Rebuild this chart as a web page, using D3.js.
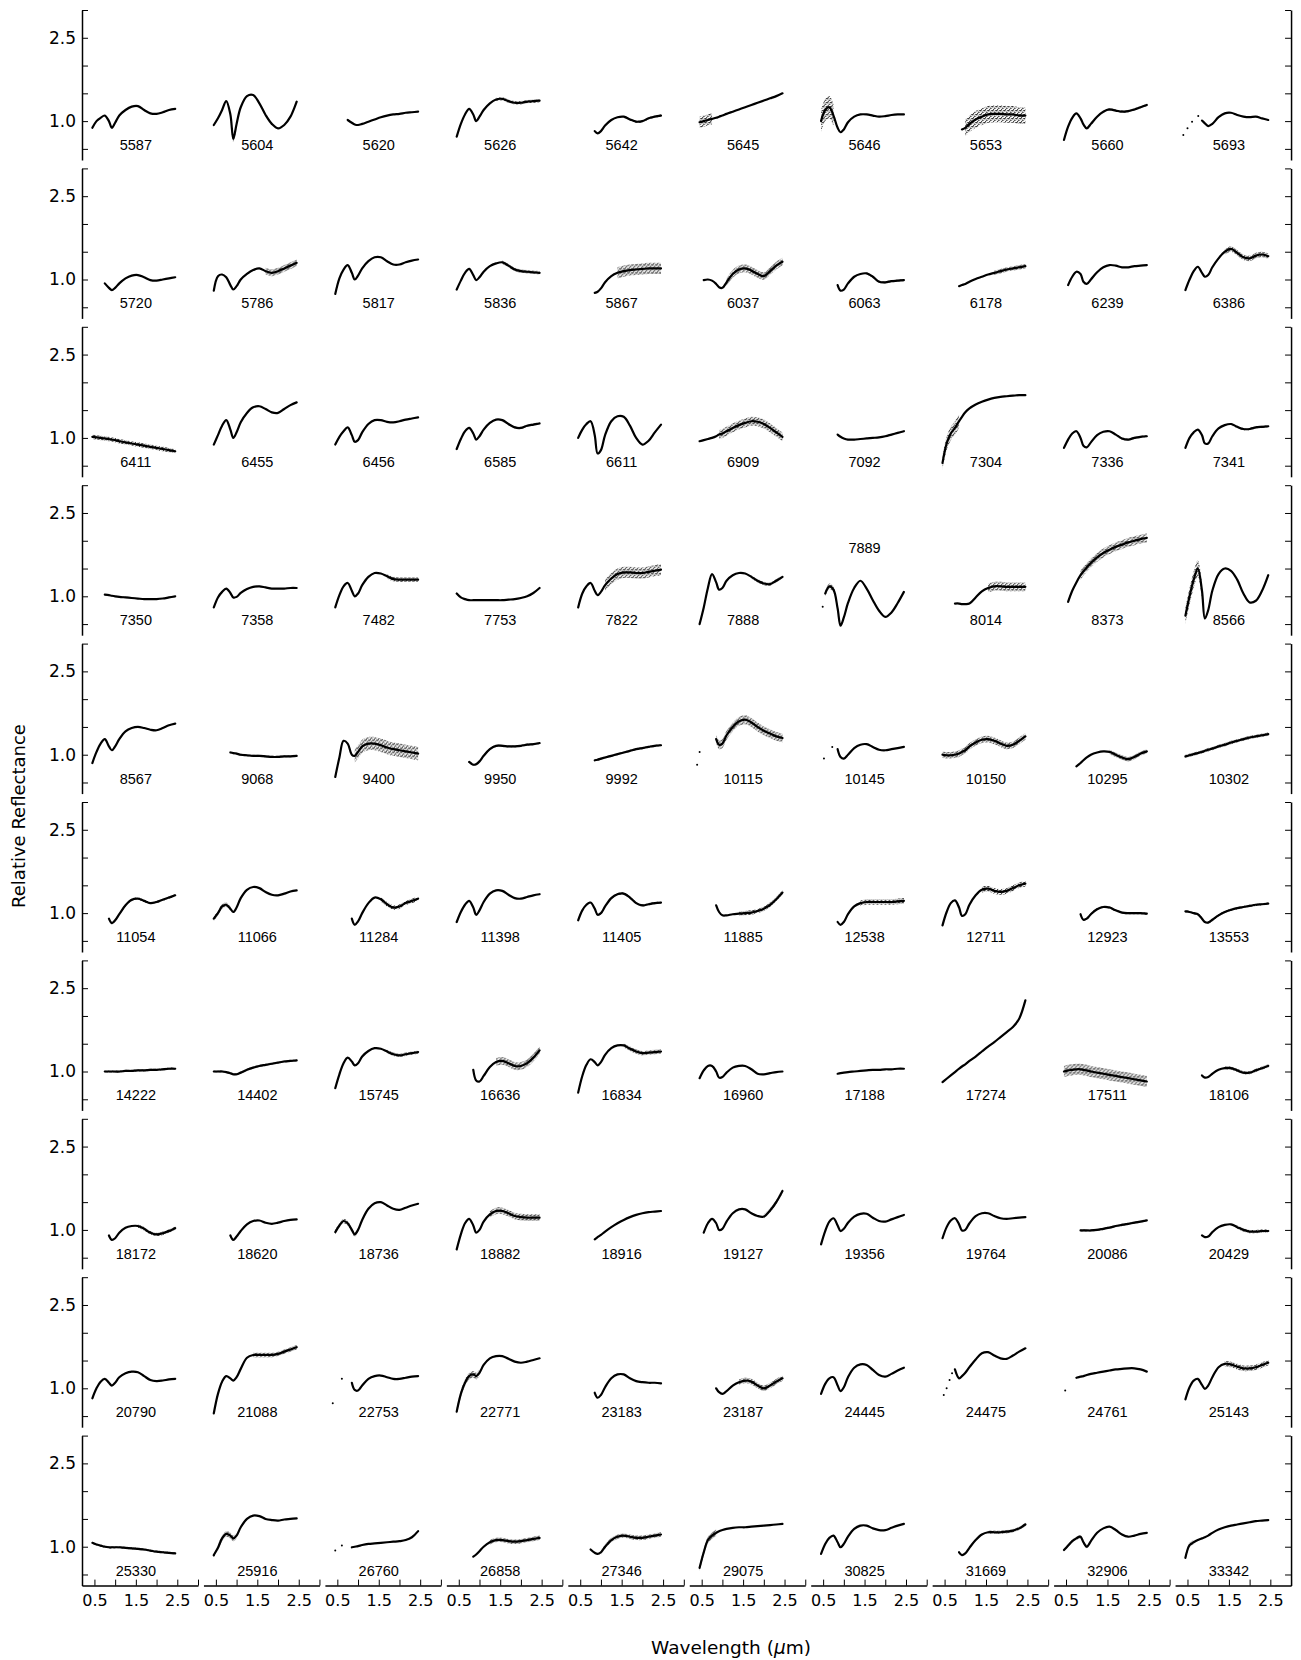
<!DOCTYPE html>
<html><head><meta charset="utf-8">
<script src="https://cdn.jsdelivr.net/npm/d3@7"></script>
<style>body{margin:0;background:#fff}</style>
</head><body><svg id="chart" width="1301" height="1660"></svg>
<script>
// ---- DATA ----
const wavelengths = [0.45,0.55,0.65,0.75,0.85,0.92,1.0,1.1,1.25,1.4,1.55,1.7,1.85,2.0,2.15,2.3,2.45];

const asteroidIds = [
"5587","5604","5620","5626","5642","5645","5646","5653","5660","5693",
"5720","5786","5817","5836","5867","6037","6063","6178","6239","6386",
"6411","6455","6456","6585","6611","6909","7092","7304","7336","7341",
"7350","7358","7482","7753","7822","7888","7889","8014","8373","8566",
"8567","9068","9400","9950","9992","10115","10145","10150","10295","10302",
"11054","11066","11284","11398","11405","11885","12538","12711","12923","13553",
"14222","14402","15745","16636","16834","16960","17188","17274","17511","18106",
"18172","18620","18736","18882","18916","19127","19356","19764","20086","20429",
"20790","21088","22753","22771","23183","23187","24445","24475","24761","25143",
"25330","25916","26760","26858","27346","29075","30825","31669","32906","33342"];

const reflectance = [
[0.88,1.0,1.06,1.1,1.0,0.88,0.97,1.1,1.2,1.26,1.27,1.2,1.14,1.13,1.16,1.2,1.22],
[0.93,1.05,1.2,1.36,1.12,0.68,0.95,1.25,1.45,1.47,1.32,1.11,0.95,0.87,0.93,1.08,1.35],
[null,null,null,1.02,0.97,0.94,0.93,0.95,0.99,1.03,1.07,1.1,1.12,1.13,1.15,1.16,1.17],
[0.72,0.95,1.12,1.22,1.12,1.0,1.08,1.2,1.32,1.39,1.4,1.36,1.33,1.33,1.35,1.36,1.37],
[null,null,null,null,0.82,0.78,0.82,0.92,1.02,1.07,1.08,1.03,0.99,1.0,1.05,1.08,1.1],
[0.98,1.0,1.02,1.04,1.06,1.08,1.1,1.13,1.17,1.21,1.25,1.29,1.33,1.37,1.41,1.45,1.5],
[1.0,1.2,1.25,1.1,0.88,0.8,0.85,0.98,1.08,1.12,1.12,1.1,1.08,1.09,1.11,1.12,1.12],
[null,null,null,null,null,0.85,0.88,0.95,1.03,1.08,1.12,1.13,1.13,1.12,1.12,1.1,1.1],
[0.66,0.9,1.06,1.14,1.05,0.94,0.87,0.95,1.08,1.17,1.21,1.19,1.17,1.18,1.21,1.25,1.29],
[null,null,null,null,1.01,0.96,0.91,0.95,1.07,1.14,1.15,1.11,1.08,1.07,1.08,1.05,1.02],

[null,null,null,0.93,0.85,0.81,0.85,0.93,1.02,1.07,1.08,1.04,0.99,0.98,1.0,1.02,1.04],
[0.8,1.06,1.09,1.04,0.9,0.82,0.88,1.0,1.1,1.17,1.2,1.15,1.12,1.15,1.2,1.25,1.3],
[0.74,1.02,1.18,1.26,1.12,1.0,1.07,1.2,1.33,1.4,1.4,1.33,1.27,1.27,1.31,1.34,1.36],
[0.82,0.98,1.12,1.19,1.08,0.99,1.04,1.14,1.24,1.29,1.31,1.25,1.18,1.15,1.14,1.13,1.12],
[null,null,null,null,0.76,0.78,0.84,0.95,1.06,1.12,1.15,1.17,1.18,1.19,1.2,1.2,1.2],
[null,0.99,1.0,0.98,0.92,0.86,0.85,0.95,1.1,1.18,1.2,1.16,1.1,1.06,1.15,1.25,1.32],
[null,null,null,null,0.9,0.8,0.82,0.93,1.05,1.1,1.11,1.05,0.96,0.95,0.97,0.98,0.99],
[null,null,null,null,0.88,0.9,0.92,0.96,1.01,1.05,1.09,1.12,1.15,1.18,1.2,1.22,1.24],
[null,0.9,1.05,1.14,1.1,0.96,0.92,1.0,1.13,1.22,1.26,1.25,1.22,1.22,1.24,1.25,1.26],
[0.81,1.0,1.15,1.23,1.12,1.05,1.08,1.22,1.38,1.5,1.55,1.48,1.4,1.38,1.43,1.45,1.42],

[1.02,1.01,1.0,0.99,0.98,0.97,0.96,0.94,0.92,0.9,0.88,0.86,0.84,0.82,0.8,0.78,0.76],
[0.88,1.05,1.22,1.32,1.15,1.0,1.1,1.28,1.45,1.55,1.57,1.52,1.46,1.45,1.52,1.59,1.64],
[0.88,1.02,1.12,1.19,1.05,0.93,0.96,1.1,1.25,1.32,1.32,1.29,1.28,1.3,1.33,1.35,1.37],
[0.8,0.98,1.12,1.18,1.08,0.97,1.03,1.15,1.27,1.33,1.32,1.25,1.19,1.18,1.22,1.24,1.26],
[1.0,1.15,1.25,1.3,1.05,0.72,0.78,1.05,1.3,1.39,1.38,1.22,1.0,0.88,0.95,1.1,1.24],
[0.94,0.96,0.98,1.0,1.03,1.06,1.08,1.12,1.18,1.23,1.27,1.3,1.29,1.25,1.18,1.1,1.02],
[null,null,null,null,1.06,1.02,0.99,0.97,0.97,0.98,0.99,1.0,1.01,1.03,1.06,1.09,1.12],
[0.55,0.9,1.08,1.18,1.3,1.38,1.46,1.53,1.6,1.65,1.69,1.72,1.74,1.75,1.76,1.77,1.77],
[0.82,0.97,1.08,1.12,1.0,0.86,0.83,0.92,1.05,1.11,1.12,1.06,0.99,0.97,1.0,1.02,1.03],
[0.82,1.0,1.1,1.15,1.05,0.9,0.9,1.03,1.17,1.23,1.25,1.2,1.16,1.16,1.19,1.2,1.21],

[null,null,null,1.03,1.02,1.01,1.0,0.99,0.98,0.97,0.96,0.95,0.95,0.95,0.96,0.98,1.0],
[0.8,0.98,1.08,1.14,1.06,0.98,0.99,1.06,1.13,1.17,1.18,1.16,1.14,1.14,1.14,1.15,1.15],
[0.8,1.02,1.18,1.24,1.1,1.0,1.05,1.2,1.35,1.42,1.41,1.36,1.31,1.3,1.3,1.3,1.3],
[1.05,0.98,0.95,0.93,0.93,0.93,0.93,0.93,0.93,0.93,0.93,0.94,0.95,0.97,1.0,1.06,1.15],
[0.8,1.05,1.18,1.24,1.1,1.02,1.08,1.2,1.32,1.4,1.43,1.43,1.42,1.42,1.44,1.46,1.48],
[0.5,0.8,1.15,1.4,1.25,1.12,1.15,1.28,1.38,1.42,1.41,1.35,1.28,1.23,1.22,1.28,1.35],
[null,1.05,1.18,1.12,0.78,0.47,0.62,0.88,1.15,1.28,1.14,0.93,0.74,0.63,0.71,0.88,1.08],
[null,null,null,0.87,0.87,0.86,0.86,0.87,0.98,1.09,1.15,1.18,1.18,1.17,1.17,1.17,1.17],
[null,0.9,1.1,1.25,1.38,1.45,1.52,1.6,1.7,1.78,1.84,1.89,1.93,1.97,2.0,2.03,2.05],
[0.65,1.0,1.3,1.5,1.1,0.6,0.75,1.1,1.4,1.5,1.46,1.3,1.05,0.89,0.92,1.1,1.38],

[0.85,1.05,1.2,1.28,1.15,1.08,1.15,1.28,1.42,1.48,1.5,1.48,1.45,1.44,1.48,1.53,1.56],
[null,null,null,null,1.04,1.03,1.02,1.0,0.99,0.98,0.98,0.97,0.96,0.96,0.97,0.97,0.98],
[0.6,0.95,1.25,1.2,1.0,0.98,1.05,1.15,1.2,1.2,1.17,1.13,1.1,1.08,1.06,1.04,1.02],
[null,null,null,0.87,0.82,0.83,0.88,0.98,1.1,1.16,1.16,1.15,1.15,1.16,1.18,1.19,1.21],
[null,null,null,null,0.9,0.91,0.93,0.95,0.98,1.01,1.04,1.07,1.1,1.12,1.14,1.16,1.17],
[null,null,null,null,1.28,1.18,1.2,1.35,1.5,1.6,1.63,1.58,1.5,1.43,1.38,1.33,1.3],
[null,null,null,null,1.1,0.96,0.93,1.0,1.12,1.18,1.19,1.14,1.09,1.08,1.1,1.12,1.14],
[1.0,0.99,0.99,1.0,1.02,1.05,1.08,1.15,1.22,1.27,1.28,1.25,1.2,1.16,1.18,1.25,1.33],
[null,null,null,0.79,0.85,0.9,0.95,1.0,1.04,1.06,1.05,1.0,0.95,0.92,0.96,1.02,1.06],
[0.97,0.99,1.01,1.03,1.05,1.07,1.09,1.11,1.15,1.18,1.22,1.25,1.28,1.31,1.33,1.35,1.37],

[null,null,null,null,0.9,0.82,0.87,0.98,1.14,1.24,1.26,1.22,1.18,1.2,1.24,1.28,1.32],
[0.9,1.0,1.12,1.15,1.08,1.02,1.1,1.27,1.42,1.47,1.45,1.38,1.33,1.32,1.35,1.39,1.41],
[null,null,null,null,0.9,0.79,0.85,1.0,1.18,1.28,1.25,1.16,1.1,1.12,1.18,1.22,1.26],
[0.84,1.02,1.15,1.22,1.1,0.97,1.05,1.2,1.35,1.41,1.4,1.33,1.27,1.26,1.29,1.32,1.34],
[0.87,1.05,1.15,1.19,1.08,0.97,1.0,1.12,1.27,1.34,1.35,1.28,1.18,1.14,1.16,1.18,1.19],
[null,null,null,null,1.14,1.02,0.96,0.96,0.98,0.99,1.0,1.01,1.04,1.08,1.15,1.25,1.37],
[null,null,null,null,0.84,0.79,0.84,0.98,1.12,1.18,1.2,1.2,1.2,1.2,1.2,1.21,1.22],
[0.78,1.02,1.18,1.23,1.1,0.95,0.98,1.15,1.32,1.42,1.44,1.4,1.38,1.4,1.45,1.5,1.53],
[null,null,null,null,0.98,0.88,0.9,0.98,1.07,1.11,1.1,1.05,1.01,1.0,1.0,1.0,0.99],
[1.03,1.02,1.0,0.98,0.9,0.84,0.83,0.88,0.96,1.02,1.06,1.09,1.11,1.13,1.15,1.16,1.17],

[null,null,null,1.0,1.0,1.0,1.0,1.0,1.01,1.01,1.02,1.02,1.03,1.03,1.04,1.05,1.05],
[1.0,1.0,1.0,0.99,0.97,0.95,0.95,0.98,1.03,1.07,1.1,1.12,1.14,1.16,1.18,1.19,1.2],
[0.7,0.95,1.15,1.25,1.18,1.11,1.15,1.27,1.37,1.42,1.41,1.36,1.31,1.29,1.31,1.33,1.35],
[null,null,null,null,1.03,0.84,0.82,0.92,1.08,1.17,1.19,1.15,1.1,1.1,1.15,1.25,1.38],
[0.62,0.92,1.12,1.22,1.17,1.11,1.17,1.3,1.42,1.47,1.47,1.41,1.36,1.33,1.34,1.35,1.36],
[0.88,1.02,1.1,1.1,1.0,0.89,0.9,0.98,1.07,1.1,1.1,1.04,0.96,0.95,0.97,0.99,1.0],
[null,null,null,null,0.96,0.97,0.98,0.99,1.0,1.01,1.02,1.03,1.03,1.04,1.04,1.05,1.05],
[0.81,0.87,0.93,0.99,1.05,1.09,1.13,1.19,1.27,1.36,1.45,1.53,1.62,1.71,1.8,1.95,2.28],
[1.0,1.02,1.03,1.04,1.04,1.03,1.02,1.0,0.98,0.96,0.94,0.92,0.9,0.88,0.86,0.84,0.82],
[null,null,null,null,0.93,0.89,0.9,0.96,1.03,1.06,1.06,1.02,0.98,0.98,1.02,1.06,1.1],

[null,null,null,null,0.9,0.82,0.85,0.95,1.04,1.07,1.07,1.02,0.95,0.92,0.94,0.98,1.03],
[null,null,null,null,0.9,0.82,0.88,0.98,1.1,1.16,1.17,1.13,1.11,1.13,1.16,1.18,1.19],
[0.96,1.08,1.16,1.12,1.0,0.92,1.0,1.18,1.38,1.48,1.5,1.44,1.38,1.36,1.4,1.44,1.47],
[0.65,0.92,1.12,1.2,1.08,0.95,1.0,1.15,1.28,1.34,1.34,1.3,1.25,1.23,1.22,1.22,1.22],
[null,null,null,null,0.83,0.87,0.91,0.97,1.05,1.12,1.18,1.23,1.27,1.3,1.32,1.33,1.34],
[null,0.95,1.12,1.2,1.12,1.0,1.02,1.15,1.3,1.37,1.37,1.3,1.25,1.24,1.35,1.5,1.7],
[0.74,0.98,1.15,1.21,1.08,0.98,1.02,1.13,1.24,1.29,1.29,1.22,1.16,1.15,1.19,1.23,1.27],
[0.85,1.05,1.17,1.21,1.1,0.99,1.0,1.12,1.25,1.3,1.3,1.25,1.21,1.2,1.21,1.22,1.23],
[null,null,null,null,0.99,0.99,0.99,0.99,1.0,1.02,1.04,1.07,1.09,1.11,1.13,1.15,1.17],
[null,null,null,null,0.9,0.87,0.88,0.96,1.05,1.09,1.1,1.05,1.0,0.97,0.97,0.98,0.98],

[0.82,1.0,1.12,1.17,1.1,1.05,1.1,1.2,1.27,1.3,1.29,1.22,1.15,1.13,1.14,1.16,1.17],
[0.55,0.9,1.12,1.22,1.18,1.14,1.2,1.35,1.55,1.6,1.6,1.6,1.6,1.62,1.66,1.7,1.74],
[null,null,null,null,1.1,0.97,0.96,1.05,1.17,1.22,1.23,1.2,1.17,1.17,1.19,1.21,1.22],
[0.58,0.9,1.1,1.22,1.25,1.22,1.28,1.42,1.54,1.58,1.58,1.53,1.48,1.46,1.48,1.51,1.54],
[null,null,null,null,0.92,0.83,0.88,1.02,1.18,1.25,1.25,1.18,1.13,1.11,1.1,1.1,1.09],
[null,null,null,null,1.0,0.93,0.9,0.95,1.05,1.11,1.14,1.12,1.05,1.0,1.05,1.12,1.18],
[0.9,1.08,1.18,1.2,1.05,0.95,1.02,1.2,1.37,1.43,1.42,1.33,1.24,1.21,1.26,1.32,1.37],
[null,null,null,1.34,1.18,1.22,1.28,1.38,1.52,1.63,1.65,1.59,1.54,1.53,1.59,1.66,1.72],
[null,null,null,1.19,1.21,1.22,1.24,1.26,1.28,1.3,1.32,1.34,1.35,1.36,1.36,1.34,1.3],
[0.8,1.02,1.14,1.17,1.06,0.99,1.05,1.2,1.38,1.44,1.43,1.39,1.36,1.36,1.38,1.42,1.46],

[1.07,1.04,1.02,1.0,0.99,0.99,0.99,0.99,0.98,0.97,0.96,0.95,0.93,0.91,0.9,0.89,0.88],
[0.85,0.98,1.15,1.23,1.2,1.15,1.2,1.35,1.5,1.56,1.55,1.5,1.48,1.47,1.49,1.5,1.51],
[null,null,null,null,0.99,1.0,1.01,1.03,1.05,1.06,1.07,1.08,1.09,1.1,1.12,1.17,1.28],
[null,null,null,null,0.82,0.86,0.92,1.0,1.08,1.12,1.12,1.1,1.09,1.1,1.12,1.14,1.16],
[null,null,null,0.95,0.89,0.87,0.9,1.0,1.12,1.18,1.2,1.18,1.16,1.16,1.18,1.2,1.22],
[0.62,0.9,1.12,1.2,1.25,1.28,1.3,1.32,1.34,1.35,1.35,1.36,1.37,1.38,1.39,1.4,1.41],
[0.87,1.05,1.16,1.2,1.08,0.99,1.05,1.18,1.32,1.38,1.38,1.33,1.3,1.3,1.34,1.38,1.41],
[null,null,null,null,0.9,0.85,0.88,0.98,1.12,1.22,1.26,1.26,1.26,1.27,1.29,1.33,1.4],
[0.94,1.02,1.1,1.15,1.18,1.08,1.0,1.1,1.25,1.33,1.36,1.3,1.22,1.18,1.2,1.23,1.25],
[0.8,1.03,1.08,1.12,1.15,1.17,1.2,1.25,1.31,1.35,1.38,1.4,1.42,1.44,1.46,1.47,1.48]
];

// isolated measurements lying apart from the continuous spectrum: [id, µm, reflectance]
const isolatedPoints = [
["5693",0.40,0.75],["5693",0.50,0.87],["5693",0.61,0.99],["5693",0.76,1.09],
["7889",0.49,0.81],
["10115",0.39,0.82],["10115",0.45,1.05],
["10145",0.52,0.93],["10145",0.72,1.14],
["22753",0.39,0.73],["22753",0.61,1.17],
["24475",0.48,0.88],["24475",0.55,1.0],["24475",0.62,1.15],["24475",0.68,1.27],
["24761",0.48,0.96],
["26760",0.45,0.93],["26760",0.61,1.02],
["25916",0.45,0.84]
];

// scatter amplitude of the measured points about the curve: number, or [amplitude, from µm, to µm]
const scatter = [
0,[0.05,0.8,1.0],0,[0.03,1.4,2.5],[0.02,1.5,2.5],[0.1,0.45,0.8],[0.2,0.45,0.75],[0.15,1.0,2.5],[0.02,1.4,2.5],0,
0,[0.06,1.6,2.5],0,[0.03,1.5,2.5],[0.1,1.3,2.5],[0.07,1.1,2.5],[0.02,1.5,2.5],[0.04,1.6,2.5],0,[0.05,1.4,2.5],
[0.04,0.4,2.5],0,0,[0.02,1.5,2.5],0,[0.08,0.9,2.5],0.01,[0.12,0.45,0.9],[0.02,1.6,2.5],[0.02,1.5,2.5],
0.01,0.01,[0.04,1.6,2.5],0,[0.1,1.1,2.5],[0.03,1.6,2.5],[0.05,0.45,0.9],[0.08,1.5,2.5],[0.08,0.8,2.5],[0.15,0.45,0.9],
0,0.02,[0.12,0.9,2.5],0.02,0.02,[0.08,0.85,2.5],0,[0.06,0.45,2.5],[0.04,1.5,2.5],0.03,
0.02,[0.04,0.45,0.9],[0.04,1.5,2.5],0,0.02,[0.04,1.4,2.5],[0.05,1.3,2.5],[0.05,1.4,2.5],0.02,0.02,
0.02,0.02,[0.03,1.6,2.5],[0.07,1.4,2.5],[0.04,1.5,2.5],0,0,0,[0.1,0.45,2.5],[0.03,1.4,2.5],
[0.03,1.5,2.5],0,[0.04,0.45,1.0],[0.06,1.2,2.5],0,[0.04,2.0,2.5],0,0,0.02,[0.03,1.6,2.5],
0,[0.04,1.3,2.5],0,[0.06,0.45,1.0],0,[0.05,1.3,2.5],0.01,0,0,[0.05,1.4,2.5],
0.02,[0.05,0.5,1.0],0,[0.04,1.2,2.5],[0.04,1.0,2.5],[0.06,0.45,0.85],0,[0.03,1.5,2.5],[0.03,0.45,1.0],[0.04,0.45,0.7]
];

const yTicks = [0.5,1.0,1.5,2.0,2.5,3.0];
const yTickLabels = ["","1.0","","","2.5",""];
const xTicks = [0.5,1.0,1.5,2.0,2.5,3.0];
const xTickLabels = ["0.5","","1.5","","2.5",""];

// ---- DRAWING ----
const svg = d3.select("#chart");
svg.append("rect").attr("width",1301).attr("height",1660).attr("fill","#fff");
const defs = svg.append("defs");
const pat = defs.append("pattern").attr("id","scatterDots").attr("width",4).attr("height",4)
  .attr("patternUnits","userSpaceOnUse");
[[0.8,0.8,0.8],[2.8,2.3,0.75],[1.5,3.3,0.6],[3.4,0.6,0.5]].forEach(p=>
  pat.append("circle").attr("cx",p[0]).attr("cy",p[1]).attr("r",p[2]).attr("fill","#000"));

const L = {left:82, top:10, colStep:121.45, rowStep:158.4, pw:116, ph:150};
const x = d3.scaleLinear().domain([0.2,3.0]).range([0,L.pw]);
const y = d3.scaleLinear().domain([0.3,3.0]).range([L.ph,0]);
const curve = d3.curveCatmullRom.alpha(0.5);
const line = d3.line().defined(d=>d.v!=null).x(d=>x(d.w)).y(d=>y(d.v)).curve(curve);
const band = d3.area().x(d=>x(d.w)).y0(d=>y(d.v-d.a)).y1(d=>y(d.v+d.a)).curve(curve);
const tickFont = "'DejaVu Sans', sans-serif";

function styleAxis(g, size){
  g.attr("font-family", tickFont).attr("font-size", size);
  g.select(".domain").attr("stroke","#000").attr("stroke-width",1.5);
  g.selectAll(".tick line").attr("stroke","#000").attr("stroke-width",1);
  g.selectAll(".tick text").attr("fill","#000");
}

asteroidIds.forEach((id,i)=>{
  const r = Math.floor(i/10), c = i%10;
  const g = svg.append("g").attr("transform",`translate(${L.left+c*L.colStep},${L.top+r*L.rowStep})`);
  const pts = wavelengths.map((w,j)=>({w, v: reflectance[i][j]}));
  const s = scatter[i];
  const [a,lo,hi] = Array.isArray(s) ? s : [s,0,3.1];
  if (a > 0) {
    const bp = pts.filter(d=>d.v!=null && d.w>=lo-1e-6 && d.w<=hi+1e-6).map(d=>({w:d.w,v:d.v,a}));
    if (bp.length>1) g.append("path").attr("d",band(bp)).attr("fill","url(#scatterDots)");
  }
  g.append("path").attr("d",line(pts)).attr("fill","none").attr("stroke","#000")
    .attr("stroke-width",2.2).attr("stroke-linejoin","round").attr("stroke-linecap","round");
  g.selectAll("circle.iso").data(isolatedPoints.filter(p=>p[0]===id)).enter().append("circle")
    .attr("class","iso").attr("cx",p=>x(p[1])).attr("cy",p=>y(p[2])).attr("r",1).attr("fill","#000");
  g.append("text").attr("x",x(1.5)).attr("y",y(id==="7889"?1.78:0.48))
    .attr("text-anchor","middle").attr("font-family","'Liberation Sans', Arial, sans-serif")
    .attr("font-size",14.5).attr("fill","#000").text(id);

  if (c===0){
    const ax = g.append("g").call(d3.axisLeft(y).tickValues(yTicks).tickSizeInner(-6).tickSizeOuter(0)
      .tickPadding(6).tickFormat((d,k)=>yTickLabels[k]));
    styleAxis(ax,17);
  }
  if (c===9){
    const ax = g.append("g").attr("transform",`translate(${L.pw},0)`)
      .call(d3.axisRight(y).tickValues(yTicks).tickSizeInner(-6).tickSizeOuter(0).tickFormat(()=>""));
    styleAxis(ax,17);
  }
  if (r===9){
    const ax = g.append("g").attr("transform",`translate(0,${L.ph})`)
      .call(d3.axisBottom(x).tickValues(xTicks).tickSizeInner(-6).tickSizeOuter(0)
      .tickPadding(9.5).tickFormat((d,k)=>xTickLabels[k]));
    styleAxis(ax,16);
  }
});

svg.append("text").attr("transform","translate(18.5,816) rotate(-90)").attr("dy","0.35em")
  .attr("text-anchor","middle").attr("font-family",tickFont).attr("font-size",18).attr("fill","#000")
  .text("Relative Reflectance");
const xt = svg.append("text").attr("x",731).attr("y",1654).attr("text-anchor","middle")
  .attr("font-family",tickFont).attr("font-size",18.5).attr("fill","#000");
xt.append("tspan").text("Wavelength (");
xt.append("tspan").attr("font-style","italic").text("μ");
xt.append("tspan").text("m)");
</script></body></html>
